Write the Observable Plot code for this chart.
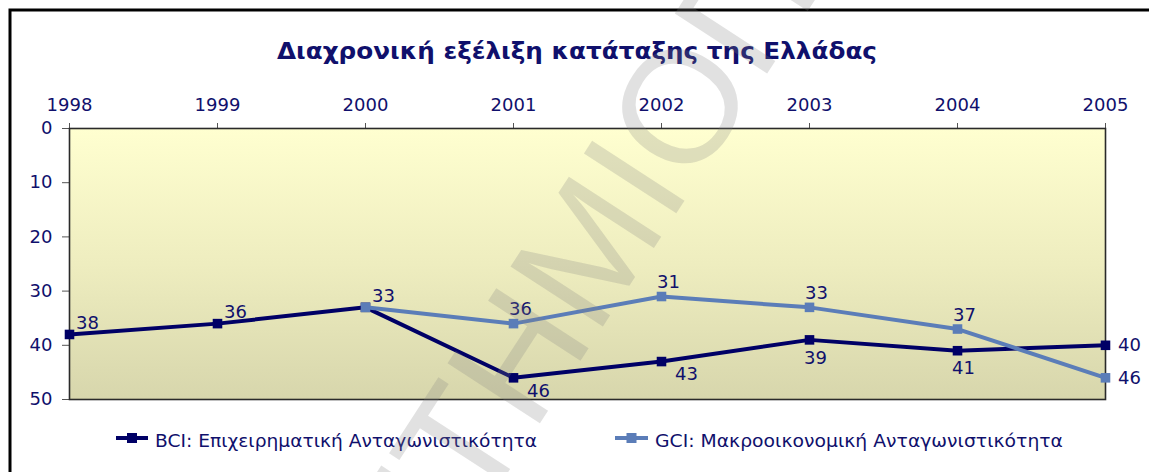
<!DOCTYPE html>
<html>
<head>
<meta charset="utf-8">
<script src="https://cdn.jsdelivr.net/npm/d3@7"></script>
<script src="https://cdn.jsdelivr.net/npm/@observablehq/plot@0.6"></script>
<style>
  html, body { margin: 0; padding: 0; background: #fff; }
  #wrap { position: relative; width: 1149px; height: 472px; overflow: hidden; background: #fff; }
  #wrap > svg { position: absolute; left: 0; top: 0; }
  #overlay { pointer-events: none; }
</style>
</head>
<body>
<div id="wrap"></div>
<script>
// ---- data ----
const years = [1998, 1999, 2000, 2001, 2002, 2003, 2004, 2005];
const bciValues = [38, 36, 33, 46, 43, 39, 41, 40];
const gciYears = [2000, 2001, 2002, 2003, 2004, 2005];
const gciValues = [33, 36, 31, 33, 37, 46];
const yTicks = [0, 10, 20, 30, 40, 50];
const bciLabelSide = ["ne", "ne", "ne", "se", "se", "s", "s", "e"];
const gciLabelSide = ["none", "n", "n", "n", "n", "e"];
const titleText = "Διαχρονική εξέλιξη κατάταξης της Ελλάδας";
const seriesNames = ["BCI: Επιχειρηματική Ανταγωνιστικότητα", "GCI: Μακροοικονομική Ανταγωνιστικότητα"];
const watermarkBefore = "ΠΑΝΕΠΙΣΤΗΜΙ";
const watermarkMid = "Ο";
const watermarkAfter = " ΠΕΙΡΑΙΩΣ";

// ---- styling ----
const navyText = "#10106c";
const bciColor = "#000066";
const gciColor = "#5b7db8";
const font = "DejaVu Sans, Verdana, sans-serif";
const sideOffsets = { ne: [18, -11], n: [7, -14], se: [25, 13], s: [6, 18], e: [24, 0] };

const bci = years.map((y, i) => ({ year: y, value: bciValues[i], side: bciLabelSide[i] }));
const gci = gciYears.map((y, i) => ({ year: y, value: gciValues[i], side: gciLabelSide[i] }));

function labelMarks(data) {
  return Object.keys(sideOffsets).map(k => Plot.text(data.filter(d => d.side === k), {
    x: "year", y: "value", text: d => String(d.value),
    dx: sideOffsets[k][0], dy: sideOffsets[k][1],
    fill: navyText, fontSize: 18
  }));
}

const defs = () => {
  const d = d3.create("svg:defs");
  const g = d.append("linearGradient").attr("id", "bg").attr("x1", 0).attr("y1", 0).attr("x2", 0).attr("y2", 1);
  g.append("stop").attr("offset", "0%").attr("stop-color", "#ffffd0");
  g.append("stop").attr("offset", "50%").attr("stop-color", "#eeedbf");
  g.append("stop").attr("offset", "100%").attr("stop-color", "#d7d6ac");
  return d.node();
};

const chart = Plot.plot({
  width: 1149,
  height: 472,
  marginTop: 128,
  marginLeft: 69,
  marginRight: 44,
  marginBottom: 73,
  style: { background: "none", color: navyText, fontFamily: font, fontSize: "18px", overflow: "visible" },
  x: { domain: [1998, 2005] },
  y: { domain: [0, 50], reverse: true },
  marks: [
    defs,
    Plot.frame({ fill: "url(#bg)" }),
    Plot.axisX({ anchor: "top", ticks: years, tickFormat: d => String(d), tickSize: 6, tickPadding: 12,
                 stroke: "#555", fill: navyText, fontSize: 18, label: null }),
    Plot.axisY({ anchor: "left", ticks: yTicks, tickFormat: d => String(d), tickSize: 7, tickPadding: 10,
                 stroke: "#555", fill: navyText, fontSize: 18, label: null }),
    Plot.frame({ stroke: "#2a2a2a", strokeWidth: 1.6 }),
    Plot.line(bci, { x: "year", y: "value", stroke: bciColor, strokeWidth: 4 }),
    Plot.dot(bci, { x: "year", y: "value", symbol: "square", fill: bciColor, r: 5.4 }),
    Plot.line(gci, { x: "year", y: "value", stroke: gciColor, strokeWidth: 4 }),
    Plot.dot(gci, { x: "year", y: "value", symbol: "square", fill: gciColor, r: 5.4 }),
    ...labelMarks(bci),
    ...labelMarks(gci)
  ]
});
document.getElementById("wrap").appendChild(chart);

// ---- overlay: border, title, legend, watermark ----
const ov = d3.select("#wrap").append("svg").attr("id", "overlay")
  .attr("width", 1149).attr("height", 472);

ov.append("rect").attr("x", 10).attr("y", 10).attr("width", 1300).attr("height", 700)
  .attr("fill", "none").attr("stroke", "#000").attr("stroke-width", 3);

ov.append("text").attr("x", 277).attr("y", 59)
  .attr("font-family", font).attr("font-weight", "bold").attr("font-size", 23)
  .attr("fill", navyText).attr("textLength", 600).attr("lengthAdjust", "spacingAndGlyphs")
  .text(titleText);

const legendItems = [
  { name: seriesNames[0], color: bciColor, x0: 116, x1: 148, tx: 155, tl: 382 },
  { name: seriesNames[1], color: gciColor, x0: 615, x1: 648, tx: 655, tl: 408 }
];
legendItems.forEach(it => {
  ov.append("line").attr("x1", it.x0).attr("x2", it.x1).attr("y1", 438).attr("y2", 438)
    .attr("stroke", it.color).attr("stroke-width", 4);
  ov.append("rect").attr("x", (it.x0 + it.x1) / 2 - 5).attr("y", 433).attr("width", 10).attr("height", 10)
    .attr("fill", it.color);
  ov.append("text").attr("x", it.tx).attr("y", 447)
    .attr("font-family", font).attr("font-size", 17).attr("fill", navyText)
    .attr("textLength", it.tl).attr("lengthAdjust", "spacingAndGlyphs")
    .text(it.name);
});

const wm = ov.append("g").attr("transform", "translate(678,105) rotate(-57)")
  .attr("font-family", "Liberation Sans, Arial, sans-serif").attr("font-size", 160)
  .attr("fill", "#808080").attr("fill-opacity", 0.24);
wm.append("text").attr("x", 0).attr("dy", "0.36em").attr("text-anchor", "middle").text(watermarkMid);
wm.append("text").attr("x", -62).attr("dy", "0.36em").attr("text-anchor", "end").text(watermarkBefore);
wm.append("text").attr("x", 62).attr("dy", "0.36em").attr("text-anchor", "start").text(watermarkAfter);
</script>
</body>
</html>
